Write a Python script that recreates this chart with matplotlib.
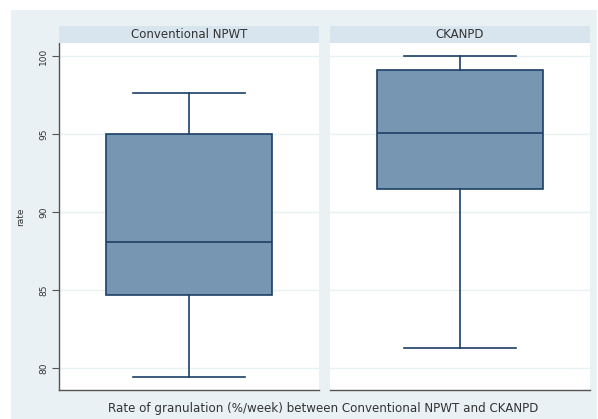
import matplotlib.pyplot as plt
from matplotlib.patches import Rectangle

# values
groups = ["Conventional NPWT", "CKANPD"]
whislo = [79.4, 81.3]
q1 = [84.65, 91.5]
med = [88.1, 95.05]
q3 = [95.0, 99.1]
whishi = [97.65, 100.0]
yticks = [80, 85, 90, 95, 100]

W, H = 598, 419
BG = "#eaf1f4"
STRIP = "#d9e5ee"
FILL = "#7796b2"
EDGE = "#1c3f66"

fig = plt.figure(figsize=(W / 100, H / 100), dpi=100)
fig.patch.set_facecolor("white")

def fx(px):
    return px / W

def fy(py):
    return 1 - py / H

# light outer background (starts a bit in from top/left)
fig.patches.append(Rectangle((fx(11), 0), fx(597) - fx(11), fy(10),
                             transform=fig.transFigure, facecolor=BG,
                             edgecolor="none", zorder=-10))

panels = [(59, 319), (330, 590)]
top, bottom = 43, 390
ylo, yhi = 78.59, 100.83

for i, (x0, x1) in enumerate(panels):
    ax = fig.add_axes([fx(x0), fy(bottom), fx(x1) - fx(x0), fy(top) - fy(bottom)])
    ax.set_facecolor("white")
    stats = [dict(whislo=whislo[i], q1=q1[i], med=med[i], q3=q3[i],
                  whishi=whishi[i], fliers=[])]
    ax.bxp(stats, positions=[0], widths=0.64, patch_artist=True,
           showfliers=False,
           boxprops=dict(facecolor=FILL, edgecolor=EDGE, linewidth=1.2),
           medianprops=dict(color=EDGE, linewidth=1.2),
           whiskerprops=dict(color=EDGE, linewidth=1.2),
           capprops=dict(color=EDGE, linewidth=1.2),
           capwidths=0.43)
    ax.set_xlim(-0.5, 0.5)
    ax.set_ylim(ylo, yhi)
    ax.set_yticks(yticks)
    ax.grid(axis="y", color=BG, linewidth=1)
    ax.set_axisbelow(True)
    ax.set_xticks([])
    for s in ["top", "right"]:
        ax.spines[s].set_visible(False)
    ax.spines["bottom"].set_color("#555555")
    ax.spines["bottom"].set_linewidth(1)
    if i == 0:
        ax.spines["left"].set_color("#555555")
        ax.spines["left"].set_linewidth(1)
        ax.tick_params(axis="y", length=5, width=0.8, color="#555555",
                       labelsize=6.5, labelcolor="#333333", pad=3)
        for lab in ax.get_yticklabels():
            lab.set_rotation(90)
            lab.set_va("center")
        ax.set_ylabel("rate", fontsize=6.5, color="#333333", labelpad=10)
    else:
        ax.spines["left"].set_visible(False)
        ax.tick_params(axis="y", length=0, labelleft=False)

    # header strip
    fig.patches.append(Rectangle((fx(x0), fy(top)), fx(x1) - fx(x0), fy(26) - fy(top),
                                 transform=fig.transFigure, facecolor=STRIP,
                                 edgecolor="none", zorder=1))
    fig.text(fx((x0 + x1) / 2), fy(34.5), groups[i], ha="center", va="center",
             fontsize=8.5, color="#333333")

fig.text(fx(323), fy(408), "Rate of granulation (%/week) between Conventional NPWT and CKANPD",
         ha="center", va="center", fontsize=8.6, color="#333333")

fig.savefig("out.png", dpi=100)
